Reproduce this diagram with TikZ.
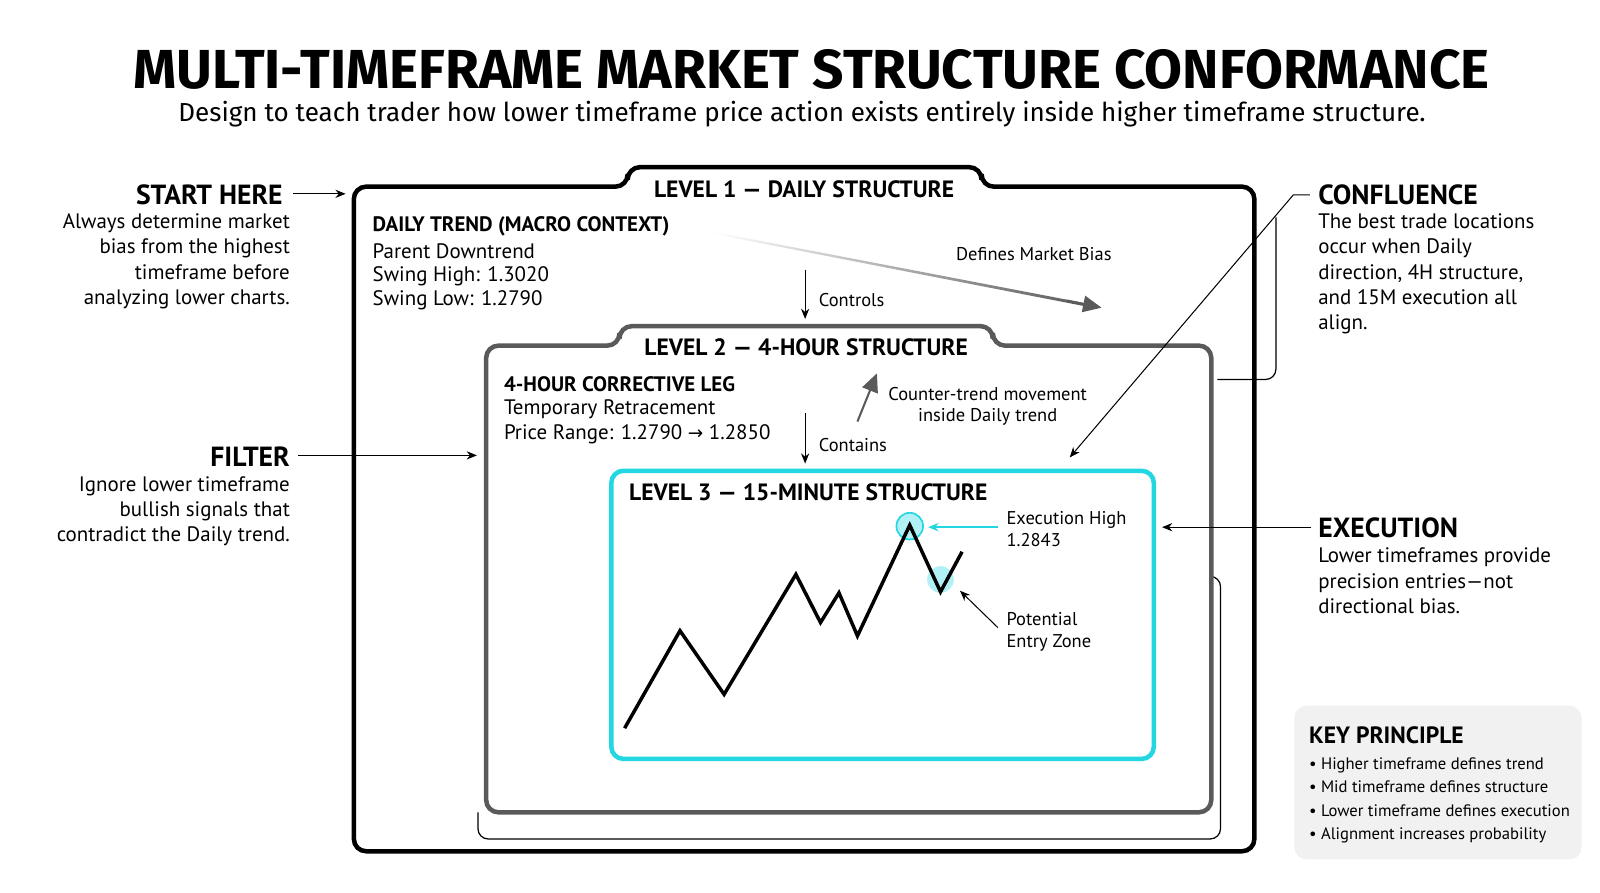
\documentclass[tikz,border=0pt]{standalone}
\usepackage{fontspec}
\setmainfont{PT Sans}
\newfontfamily\titlefont{Fira Sans}
\newfontfamily\symfont{DejaVu Sans}
\usetikzlibrary{arrows.meta}
\definecolor{cy}{HTML}{22D6E2}
\definecolor{cylight}{HTML}{9EEEF2}
\definecolor{gr}{HTML}{5A5A5A}
\definecolor{keybg}{HTML}{F1F1F1}
\begin{document}
\begin{tikzpicture}[x=0.5pt,y=-0.5pt,
  body/.style={font=\fontsize{10.2}{12.3}\selectfont, inner sep=0pt},
  small/.style={font=\fontsize{9}{10.5}\selectfont, inner sep=0pt},
  head/.style={font=\fontsize{13.5}{15}\selectfont\bfseries, inner sep=0pt},
  tab/.style={font=\fontsize{11.5}{13}\selectfont\bfseries, inner sep=0pt},
  sub/.style={font=\fontsize{10.2}{12}\selectfont\bfseries, inner sep=0pt},
  thinarr/.style={-{Stealth[length=5pt,width=4pt]}, line width=0.5pt},
  gray arr/.style={-{Triangle[length=9pt,width=8pt]}, line width=1pt, gr}]
\useasboundingbox (0,0) rectangle (1560,870);
% title
\node[font=\titlefont\fontsize{26.8}{30}\selectfont\bfseries, inner sep=0pt] (title) at (791,68) {MULTI-TIMEFRAME MARKET STRUCTURE CONFORMANCE};
\node[font=\titlefont\fontsize{12.7}{14}\selectfont, inner sep=0pt] (subtitle) at (782,111) {Design to teach trader how lower timeframe price action exists entirely inside higher timeframe structure.};
% thin bracket behind
\draw[line width=0.6pt, rounded corners=5pt] (1180,562) -- (1190,562) -- (1190,818) -- (466,818) -- (466,792);
% level 1
\draw[line width=2.2pt, rounded corners=6pt] (612,182) -- (612,163) -- (957,163) -- (957,182) -- (1223,182) -- (1223,830) -- (345,830) -- (345,182) -- cycle;
\node[tab] (l1) at (784,185) {LEVEL 1 — DAILY STRUCTURE};
% level 2
\draw[gr, line width=2.2pt, rounded corners=6pt] (604,337) -- (604,318) -- (968,318) -- (968,337) -- (1181,337) -- (1181,792) -- (474,792) -- (474,337) -- cycle;
\node[tab] (l2) at (786,339) {LEVEL 2 — 4-HOUR STRUCTURE};
% level 3
\draw[cy, line width=2.2pt, rounded corners=6pt] (596,459) rectangle (1125,740);
\node[tab, anchor=west] (l3) at (613,480) {LEVEL 3 — 15-MINUTE STRUCTURE};
% daily text
\node[sub, anchor=west] (dt) at (363,221) {DAILY TREND (MACRO CONTEXT)};
\node[body, anchor=west] (d1) at (363,245) {Parent Downtrend};
\node[body, anchor=west] (d2) at (363,269) {Swing High: 1.3020};
\node[body, anchor=west] (d3) at (363,293) {Swing Low: 1.2790};
\coordinate (ctop) at (785,263); \coordinate (cbot) at (785,311);
\draw[thinarr] (ctop) -- (cbot);
\node[small, anchor=west] (controls) at (798,293) {Controls};
\coordinate (mb1) at (695,227); \coordinate (mb2) at (1074,300);
\shade[left color=white, right color=gr] (695,226) -- (1060,296) -- (1060,299) -- (695,228) -- cycle;
\draw[-{Triangle[length=9pt,width=8pt]}, gr, line width=1pt] (1040,293) -- (mb2);
\node[small] (bias) at (1008,248) {Defines Market Bias};
% 4H text
\node[sub, anchor=west] (ht) at (491,375) {4-HOUR CORRECTIVE LEG};
\node[body, anchor=west] (h1) at (491,399) {Temporary Retracement};
\node[body, anchor=west] (h2) at (491,423) {Price Range: 1.2790 {\symfont\fontsize{9}{10}\selectfont →} 1.2850};
\coordinate (c2top) at (785,403); \coordinate (c2bot) at (785,452);
\draw[thinarr] (c2top) -- (c2bot);
\node[small, anchor=west] (contains) at (798,434) {Contains};
\coordinate (ct1) at (836,411); \coordinate (ct2) at (855,364);
\draw[gray arr] (ct1) -- (ct2);
\node[small, align=center] (counter) at (963,396) {Counter-trend movement\\inside Daily trend};
% chart
\fill[cylight, opacity=0.8] (887,513) circle (13);
\draw[cy, line width=0.8pt] (887,513) circle (13);
\fill[cylight, opacity=0.8] (917,565) circle (13);
\draw[line width=1.7pt, line join=miter] (609,710) -- (663,615) -- (706,677) -- (776,560) -- (800,607) -- (818,578) -- (836,620) -- (887,512) -- (917,577) -- (938,538);
\coordinate (eh1) at (973,514); \coordinate (eh2) at (905,514);
\draw[thinarr, cy, line width=0.8pt] (eh1) -- (eh2);
\node[small, anchor=west, align=left] (exh) at (981,516) {Execution High\\1.2843};
\coordinate (pe1) at (973,612); \coordinate (pe2) at (936,576);
\draw[thinarr] (pe1) -- (pe2);
\node[small, anchor=west, align=left] (pez) at (981,616) {Potential\\Entry Zone};
% left side
\node[head, anchor=east] (start) at (276,190) {START HERE};
\draw[thinarr] (286,189) -- (337,189);
\node[body, anchor=north east, align=right] (starttxt) at (283,208) {Always determine market\\bias from the highest\\timeframe before\\analyzing lower charts.};
\node[head, anchor=east] (filter) at (283,445) {FILTER};
\draw[thinarr] (291,444) -- (465,444);
\node[body, anchor=north east, align=right] (filtertxt) at (283,464) {Ignore lower timeframe\\bullish signals that\\contradict the Daily trend.};
% right side
\node[head, anchor=west] (conf) at (1285,190) {CONFLUENCE};
\node[body, anchor=north west, align=left] (conftxt) at (1285,208) {The best trade locations\\occur when Daily\\direction, 4H structure,\\and 15M execution all\\align.};
\draw[thinarr] (1277,190) -- (1261,190) -- (1043,446);
\draw[line width=0.6pt, rounded corners=5pt] (1244,212) -- (1244,370) -- (1187,370);
\node[head, anchor=west] (exec) at (1285,515) {EXECUTION};
\node[body, anchor=north west, align=left] (exectxt) at (1285,534) {Lower timeframes provide\\precision entries—not\\directional bias.};
\draw[thinarr] (1278,514) -- (1133,514);
% key principle
\fill[keybg, rounded corners=6pt] (1262,688) rectangle (1542,838);
\node[font=\fontsize{11.5}{13}\selectfont\bfseries, anchor=west, inner sep=0pt] (kp) at (1276,717) {KEY PRINCIPLE};
\node[font=\fontsize{8.1}{11.5}\selectfont, anchor=north west, align=left, inner sep=0pt] (kptxt) at (1276,738) {• Higher timeframe defines trend\\• Mid timeframe defines structure\\• Lower timeframe defines execution\\• Alignment increases probability};
\end{tikzpicture}
\end{document}
